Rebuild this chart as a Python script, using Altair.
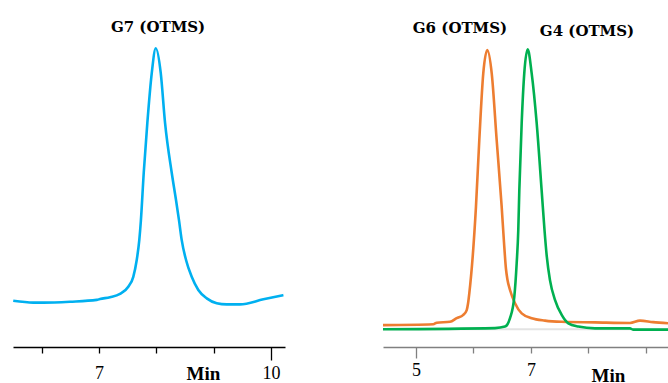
import altair as alt
import pandas as pd

# ---- data (time in min, signal in arbitrary units) ----
g7_t = [5.504, 5.853, 6.028, 6.494, 6.960, 7.017, 7.192, 7.366, 7.511, 7.598, 7.658, 7.703,
        7.730, 7.780, 7.843, 7.920, 7.990, 8.077, 8.152, 8.269, 8.343, 8.395, 8.442, 8.518,
        8.617, 8.732, 8.879, 9.053, 9.227, 9.459, 9.867, 10.216]
g7_s = [15.4, 14.8, 14.8, 15.1, 15.7, 16.0, 16.6, 17.7, 20.1, 23.4, 29.0, 35.7,
        42.0, 58.0, 74.7, 91.3, 99.6, 91.3, 74.7, 58.0, 49.0, 42.3, 35.7, 29.0,
        23.4, 19.0, 16.2, 14.6, 14.2, 14.2, 15.9, 17.3]

g6_t = [4.403, 5.301, 5.360, 5.591, 5.708, 5.823, 5.882, 5.905, 5.927, 5.986, 6.043, 6.101,
        6.170, 6.240, 6.317, 6.403, 6.490, 6.530, 6.565, 6.590, 6.635, 6.722, 6.838, 7.012,
        7.243, 7.534, 8.113, 8.722, 8.896, 9.122, 9.383]
g6_s = [7.3, 7.6, 8.1, 8.4, 9.6, 10.7, 12.3, 14.5, 17.9, 30.1, 46.8, 69.0,
        91.2, 99.0, 91.2, 69.0, 46.8, 35.0, 26.0, 22.5, 19.0, 14.6, 11.2, 9.6,
        8.8, 8.4, 8.2, 8.0, 8.8, 8.3, 7.9]

g4_t = [4.403, 6.374, 6.548, 6.635, 6.710, 6.751, 6.779, 6.797, 6.838, 6.883, 6.943, 7.012,
        7.099, 7.185, 7.235, 7.275, 7.330, 7.417, 7.534, 7.649, 7.823, 8.113, 8.722, 8.774,
        9.383]
g4_s = [5.9, 6.3, 6.8, 9.6, 16.8, 27.9, 39.0, 52.3, 74.6, 91.2, 99.2, 91.2,
        74.6, 52.3, 39.0, 30.1, 22.3, 15.7, 10.7, 7.9, 6.8, 6.2, 6.2, 5.8,
        5.8]

base_t = [4.403, 9.383]
base_s = [5.9, 5.9]

left_labels = ["G7 (OTMS)"]
left_label_t = [8.03]
left_label_s = [106.7]

right_labels = ["G6 (OTMS)", "G4 (OTMS)"]
right_label_t = [5.765, 7.974]
right_label_s = [106.3, 105.3]

left_domain = [5.50, 10.244]
right_domain = [4.426, 9.383]
y_domain = [0, 115.67]
left_ticks = [6, 7, 8, 9, 10]
right_ticks = [5, 6, 7, 8, 9]

# ---- tables ----
df_g7 = pd.DataFrame({"t": g7_t, "s": g7_s})
df_g6 = pd.DataFrame({"t": g6_t, "s": g6_s})
df_g4 = pd.DataFrame({"t": g4_t, "s": g4_s})
df_base = pd.DataFrame({"t": base_t, "s": base_s})
df_ll = pd.DataFrame({"t": left_label_t, "s": left_label_s, "txt": left_labels})
df_rl = pd.DataFrame({"t": right_label_t, "s": right_label_s, "txt": right_labels})

yenc = alt.Y("s:Q", scale=alt.Scale(domain=y_domain, nice=False, zero=False), axis=None)


def xenc(domain, ticks, shown, long_tick, long_size, color, title_x, title_y, label_pad):
    expr = " || ".join(f"datum.value == {v}" for v in shown)
    return alt.X(
        "t:Q",
        scale=alt.Scale(domain=domain, nice=False, zero=False),
        axis=alt.Axis(
            values=ticks,
            format="d",
            labelExpr=f"({expr}) ? datum.label : ''",
            title="Min",
            titleFont="Liberation Serif",
            titleFontSize=19,
            titleFontWeight="bold",
            titleColor="black",
            titleX=title_x,
            titleY=title_y,
            titleBaseline="alphabetic",
            titleAlign="center",
            labelFont="Liberation Serif",
            labelFontSize=18,
            labelColor="black",
            labelBaseline="alphabetic",
            labelPadding={"condition": {"test": f"datum.value == {long_tick}",
                                        "value": label_pad - (long_size - 6)},
                          "value": label_pad},
            domainColor=color,
            domainWidth=1.5,
            tickColor=color,
            tickWidth=1.3,
            tickSize={"condition": {"test": f"datum.value == {long_tick}", "value": long_size},
                      "value": 6},
            grid=False,
        ),
    )


title_style = dict(font="DejaVu Serif", fontSize=15, fontWeight="bold", color="black",
                   align="center", baseline="middle")

x_left = xenc(left_domain, left_ticks, [7, 10], 10, 13, "black", 190, 32, 25)
left = alt.layer(
    alt.Chart(df_g7).mark_line(color="#00B0F0", strokeWidth=2.6, interpolate="monotone", clip=True)
    .encode(x=x_left, y=yenc),
    alt.Chart(df_ll).mark_text(**title_style).encode(x=alt.X("t:Q"), y=alt.Y("s:Q"), text="txt:N"),
).properties(width=272, height=347)

x_right = xenc(right_domain, right_ticks, [5, 7], 5, 11, "#808080", 225, 34, 22)
right = alt.layer(
    alt.Chart(df_base).mark_line(color="#e3e3e3", strokeWidth=2, clip=True).encode(x=x_right, y=yenc),
    alt.Chart(df_g6).mark_line(color="#ED7D31", strokeWidth=2.6, interpolate="monotone", clip=True)
    .encode(x=alt.X("t:Q"), y=alt.Y("s:Q")),
    alt.Chart(df_g4).mark_line(color="#00B050", strokeWidth=2.6, interpolate="monotone", clip=True)
    .encode(x=alt.X("t:Q"), y=alt.Y("s:Q")),
    alt.Chart(df_rl).mark_text(**title_style).encode(x=alt.X("t:Q"), y=alt.Y("s:Q"), text="txt:N"),
).properties(width=285, height=347)

chart = alt.hconcat(left, right, spacing=98).properties(
    padding={"left": 13, "top": 0, "right": 0, "bottom": 0},
    background="white",
).configure_view(stroke=None)

chart.save("out.html", embed_options={"renderer": "svg", "actions": False})
